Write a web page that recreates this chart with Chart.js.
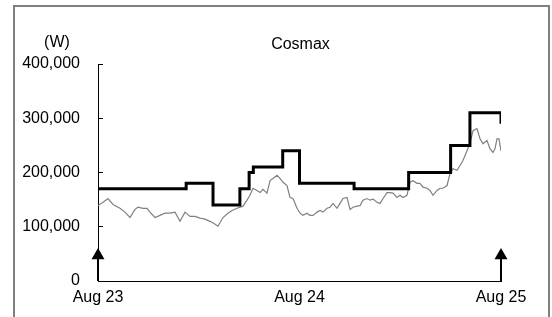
<!DOCTYPE html>
<html>
<head>
<meta charset="utf-8">
<script src="https://cdn.jsdelivr.net/npm/chart.js@4/dist/chart.umd.min.js"></script>
<style>
  html, body { margin: 0; padding: 0; background: #fff; }
  #wrap { position: relative; width: 552px; height: 317px; overflow: hidden; }
  canvas { display: block; }
</style>
</head>
<body>
<div id="wrap"><canvas id="c" width="552" height="317"></canvas></div>
<script>
// ---- data (x in hours from Aug 23 00:00) ----
const chartTitle = "Cosmax";
const unitLabel = "(W)";
const dayLabels = ["Aug 23", "Aug 24", "Aug 25"];
const yTicks = [0, 100000, 200000, 300000, 400000];

// gray measured load
const loadHours = [0,0.60,1.19,1.79,2.62,3.22,3.81,4.41,4.76,5.36,5.84,6.19,6.79,7.38,7.98,8.58,9.17,9.77,10.36,10.96,11.55,12.15,12.74,13.34,13.82,14.29,14.89,15.48,15.96,16.56,17.27,17.75,18.10,18.46,18.94,19.30,19.65,20.13,20.49,20.84,21.32,21.68,22.04,22.51,22.87,23.23,23.70,24.06,24.42,24.89,25.25,25.61,26.08,26.44,26.80,27.28,27.63,27.99,28.47,28.82,29.18,29.66,30.02,30.37,30.85,31.21,31.56,32.04,32.40,32.76,33.23,33.59,33.95,34.42,34.78,35.14,35.61,35.97,36.33,36.80,37.16,37.52,38.00,38.35,38.71,39.19,39.54,39.90,40.38,40.74,41.09,41.57,41.93,42.28,42.76,43.12,43.47,43.95,44.31,44.67,45.14,45.50,45.86,46.33,46.69,47.05,47.29,47.52,47.76,48.0];
const loadValues = [139000,145000,152000,141000,134000,127000,117000,132000,136000,134000,134000,127000,117000,121000,125000,125000,127000,110000,127000,119000,119000,116000,114000,110000,106000,101000,117000,125000,130000,134000,138000,149000,158000,171000,167000,163000,169000,162000,185000,189000,195000,189000,182000,176000,154000,152000,134000,125000,121000,125000,121000,121000,127000,130000,127000,134000,136000,143000,134000,143000,152000,154000,132000,136000,138000,139000,149000,152000,149000,151000,145000,143000,152000,163000,163000,162000,154000,158000,154000,158000,182000,185000,180000,180000,173000,171000,167000,158000,167000,171000,171000,176000,198000,207000,204000,213000,222000,240000,255000,277000,281000,262000,253000,259000,244000,237000,244000,262000,262000,240000];

// black step limit
const stepHours  = [0, 10.5, 13.7, 16.9, 18.0, 18.5, 22.0, 24.0, 30.5, 37.0, 42.0, 44.3, 48.0];
const stepValues = [170000, 180000, 140000, 170000, 200000, 210000, 240000, 180000, 170000, 200000, 250000, 310000, 290000];

// arrows marking the start and end
const arrowHours = [0, 48];
const arrowTop = 47000;

// ---- build ----
const loadData = loadHours.map((h, i) => ({ x: h, y: loadValues[i] }));
const stepData = stepHours.map((h, i) => ({ x: h, y: stepValues[i] }));

const FONT = "'Liberation Sans', Arial, sans-serif";

const arrowSets = arrowHours.map(h => ({
  type: 'line',
  data: [{ x: h, y: 0 }, { x: h, y: arrowTop }],
  borderColor: '#000',
  backgroundColor: '#000',
  borderWidth: 2,
  pointStyle: 'triangle',
  pointRadius: [0, 7.5],
  pointBorderWidth: 0,
  pointBackgroundColor: '#000',
  clip: false,
  order: 0
}));

const framePlugin = {
  id: 'frame',
  beforeDraw(chart) {
    const ctx = chart.ctx;
    ctx.save();
    ctx.fillStyle = '#fff';
    ctx.fillRect(0, 0, chart.width, chart.height);
    ctx.strokeStyle = '#808080';
    ctx.lineWidth = 2;
    ctx.strokeRect(14, 6, 535, 400);
    ctx.restore();
  },
  afterDraw(chart) {
    const ctx = chart.ctx;
    const a = chart.chartArea;
    ctx.save();
    ctx.fillStyle = '#000';
    ctx.font = '16px ' + FONT;
    ctx.textAlign = 'center';
    ctx.textBaseline = 'middle';
    ctx.fillText(chartTitle, (a.left + a.right) / 2 + 1, 45);
    ctx.fillText(unitLabel, 57, 43);
    ctx.restore();
  }
};

new Chart(document.getElementById('c'), {
  type: 'line',
  data: {
    datasets: [
      {
        data: stepData,
        stepped: true,
        borderColor: '#000',
        borderWidth: 3,
        pointRadius: 0,
        fill: false,
        order: 1
      },
      {
        data: loadData,
        borderColor: '#808080',
        borderWidth: 1.2,
        pointRadius: 0,
        tension: 0,
        fill: false,
        order: 2
      },
      ...arrowSets
    ]
  },
  options: {
    responsive: false,
    animation: false,
    layout: { padding: { left: 0, right: 51, top: 64, bottom: 0 } },
    plugins: { legend: { display: false }, tooltip: { enabled: false }, title: { display: false } },
    scales: {
      x: {
        type: 'linear',
        min: 0,
        max: 48,
        afterBuildTicks(scale) { scale.ticks = [0, 24, 48].map(v => ({ value: v })); },
        afterFit(scale) { scale.height = 36; },
        grid: { display: true, drawOnChartArea: false, drawTicks: false },
        border: { display: true, color: '#000', width: 1 },
        ticks: {
          padding: 7,
          maxRotation: 0,
          autoSkip: false,
          color: '#000',
          font: { family: FONT, size: 16 },
          callback: (v) => dayLabels[Math.round(v / 24)]
        }
      },
      y: {
        min: 0,
        max: 400000,
        afterBuildTicks(scale) { scale.ticks = yTicks.map(v => ({ value: v })); },
        afterFit(scale) { scale.width = 98; },
        grid: { display: true, drawOnChartArea: false, drawTicks: true, tickLength: -5, color: '#000', tickColor: '#000' },
        border: { display: true, color: '#000', width: 1 },
        ticks: {
          padding: 23,
          color: '#000',
          font: { family: FONT, size: 16 },
          callback: (v) => v.toLocaleString('en-US')
        }
      }
    }
  },
  plugins: [framePlugin]
});
</script>
</body>
</html>
